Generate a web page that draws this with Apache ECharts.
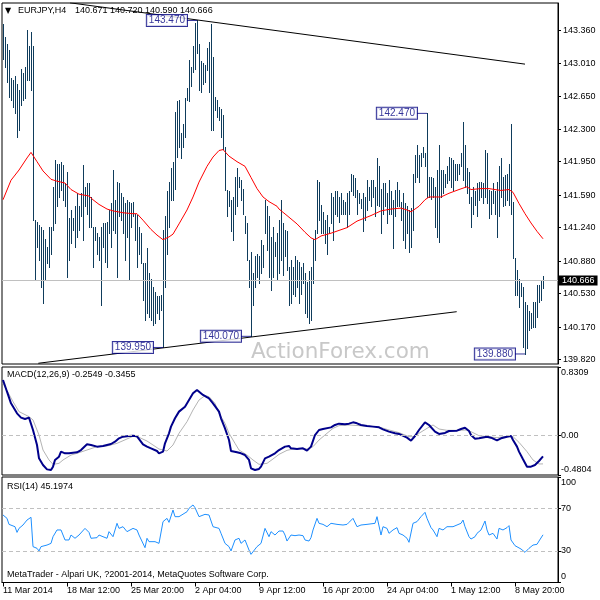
<!DOCTYPE html>
<html><head><meta charset="utf-8">
<script src="https://cdn.jsdelivr.net/npm/echarts@6/dist/echarts.min.js"></script>
<style>html,body{margin:0;padding:0;background:#fff}#c{width:600px;height:600px}</style>
</head><body><div id="c"></div>
<script>
// ---------- data ----------
const symbolName = 'EURJPY,H4';
const ohlcLast = ['140.671', '140.720', '140.590', '140.666'];
const lastClose = 140.666;

const highs = [143.43,143.29,143.22,143.15,142.85,142.83,142.87,142.79,142.72,142.95,142.90,142.97,143.37,143.19,143.35,143.19,141.32,141.30,141.27,141.25,
141.21,141.12,141.03,141.25,141.25,141.68,141.97,141.93,141.93,141.95,141.91,141.72,141.84,141.34,141.43,141.34,141.47,141.61,141.47,141.61,
141.91,141.68,141.72,141.72,141.57,141.25,141.25,141.18,141.14,141.25,141.29,141.29,141.30,141.43,141.50,141.86,141.54,141.73,141.72,141.61,
141.57,141.50,141.54,141.52,141.50,141.52,141.39,141.38,141.25,141.18,140.86,140.86,141.02,140.75,140.69,140.60,140.55,140.50,140.50,140.51,
141.21,141.36,141.63,141.73,141.88,141.95,142.49,142.60,142.61,142.26,142.36,142.63,142.74,143.04,142.97,143.19,143.44,143.47,143.22,143.03,
143.01,142.99,143.17,143.24,143.43,143.08,142.65,142.61,142.54,142.52,142.45,142.11,141.65,141.63,141.54,141.57,141.79,141.88,141.79,141.75,
141.66,141.36,141.29,140.89,140.98,140.75,140.93,140.96,140.93,141.11,141.05,141.54,141.47,141.36,141.14,141.25,141.09,141.18,141.32,141.54,
141.29,141.21,141.20,140.82,140.89,140.82,140.93,140.89,140.87,140.82,140.86,140.75,140.66,140.77,140.82,141.12,141.21,141.75,141.73,141.48,
141.41,141.32,141.38,141.25,141.61,141.57,141.63,141.63,141.57,141.61,141.54,141.52,141.61,141.63,141.82,141.81,141.77,141.65,141.61,141.55,
141.61,141.57,141.75,141.68,141.75,141.75,141.68,141.99,141.90,141.66,141.72,141.72,141.61,141.75,141.63,141.54,141.65,141.73,141.65,141.52,
141.61,141.50,141.47,141.43,141.45,141.82,142.02,142.13,142.02,142.04,142.11,142.04,142.47,141.79,141.79,141.77,141.68,141.86,142.13,141.86,
141.86,141.82,141.90,142.00,141.99,141.97,141.93,141.93,141.93,142.04,142.38,142.13,141.88,141.84,141.57,141.68,141.63,141.72,141.73,141.73,
141.72,142.08,142.04,141.65,141.63,141.72,141.63,141.73,141.90,141.99,141.79,141.81,141.82,141.93,142.36,141.52,140.91,140.78,140.69,140.64,
140.60,140.44,140.41,140.34,140.32,140.44,140.44,140.62,140.62,140.68,140.72];

const lows = [143.06,142.97,142.81,142.65,142.61,142.54,142.47,142.22,142.29,142.56,142.61,142.63,142.83,142.83,142.72,141.32,140.69,141.03,140.89,140.60,
140.43,140.68,140.86,140.82,140.96,141.21,141.29,141.47,141.57,141.65,141.54,141.47,140.71,140.89,141.07,141.21,141.03,141.14,141.21,141.36,
141.11,141.47,141.39,141.25,141.25,140.82,141.11,140.96,140.89,140.41,141.03,140.87,140.82,141.18,141.03,141.21,141.18,140.71,141.36,141.32,
141.18,140.89,141.14,140.68,141.25,141.36,141.11,140.82,140.96,140.86,140.46,140.25,140.32,140.28,140.25,140.19,140.21,140.32,140.26,140.35,
139.95,140.60,140.96,141.25,141.54,141.54,141.66,142.00,142.11,141.99,142.11,142.22,142.61,142.60,142.76,142.92,142.95,143.12,142.72,142.70,
142.79,142.81,142.94,142.70,142.29,142.29,142.51,142.43,142.40,142.22,142.09,141.65,141.36,141.47,141.20,141.11,141.39,141.47,141.68,141.54,
141.39,141.18,140.89,140.60,140.07,140.41,140.60,140.71,140.64,140.75,140.82,141.18,141.00,140.71,140.57,140.71,140.93,140.68,140.75,140.89,
140.73,140.93,140.78,140.41,140.43,140.53,140.50,140.60,140.43,140.53,140.64,140.32,140.28,140.21,140.25,140.64,140.89,141.18,141.32,141.18,
141.18,141.07,140.96,141.18,141.29,141.11,141.39,141.36,141.30,141.39,141.39,141.39,141.25,141.39,141.63,141.59,141.57,141.39,141.50,141.45,
141.20,141.32,141.43,141.54,141.47,141.57,141.36,141.48,141.47,141.18,141.39,141.47,141.29,141.39,141.39,141.02,141.36,141.47,141.47,141.32,
141.11,141.02,141.18,140.98,141.03,141.21,141.73,141.79,141.73,141.90,142.00,141.90,141.57,141.57,141.55,141.57,141.25,141.14,141.09,141.57,
141.61,141.68,141.72,141.75,141.68,141.65,141.75,141.75,141.82,141.90,141.75,141.68,141.61,141.50,141.25,141.39,141.48,141.36,141.54,141.57,
141.50,141.57,141.50,141.34,141.39,141.50,141.39,141.14,141.36,141.57,141.47,141.48,141.54,141.48,141.39,140.91,140.51,140.51,140.39,140.50,
139.96,139.88,139.94,140.14,140.16,140.17,140.17,140.28,140.44,140.46,140.59];

// red moving average, [bar, value]
const maLine = [[0,141.54],[4,141.75],[8,141.86],[12,141.99],[14,142.05],[15,142.03],[17,141.95],[20,141.85],[24,141.76],[27,141.74],[31,141.72],[34,141.65],[38,141.60],[43,141.58],[45,141.54],[48,141.49],[52,141.44],[55,141.42],[60,141.40],[65,141.39],[67,141.39],[70,141.32],[74,141.22],[77,141.16],[80,141.11],[83,141.14],[85,141.17],[88,141.28],[92,141.43],[95,141.57],[98,141.73],[102,141.90],[105,142.00],[108,142.07],[110,142.08],[113,142.01],[117,141.95],[121,141.90],[124,141.78],[127,141.66],[130,141.57],[133,141.52],[137,141.47],[138,141.44],[142,141.37],[147,141.28],[151,141.19],[154,141.13],[156,141.11],[159,141.15],[164,141.18],[168,141.21],[172,141.24],[177,141.31],[184,141.37],[189,141.42],[194,141.44],[199,141.45],[202,141.43],[204,141.41],[208,141.47],[211,141.54],[213,141.57],[219,141.57],[223,141.61],[228,141.65],[232,141.68],[234,141.65],[239,141.66],[243,141.66],[246,141.65],[249,141.64],[253,141.65],[255,141.62],[258,141.50],[261,141.39],[264,141.29],[267,141.20],[270,141.12]];

const macdMain = [[0,0.673],[2,0.531],[4,0.390],[7,0.268],[9,0.216],[11,0.199],[13,0.216],[14,0.208],[15,0.066],[17,-0.116],[18,-0.278],[20,-0.359],[22,-0.412],[24,-0.420],[25,-0.379],[26,-0.298],[28,-0.258],[29,-0.197],[30,-0.189],[31,-0.217],[33,-0.217],[37,-0.205],[39,-0.177],[42,-0.108],[43,-0.088],[44,-0.116],[47,-0.136],[50,-0.128],[52,-0.116],[54,-0.104],[56,-0.076],[58,-0.035],[60,-0.015],[63,-0.007],[65,-0.003],[67,-0.011],[68,-0.035],[70,-0.108],[72,-0.136],[74,-0.157],[77,-0.189],[78,-0.217],[80,-0.197],[81,-0.096],[83,0.026],[84,0.107],[86,0.208],[88,0.289],[91,0.349],[93,0.430],[95,0.511],[97,0.552],[98,0.531],[100,0.491],[103,0.450],[105,0.390],[108,0.289],[109,0.208],[111,0.086],[113,-0.056],[114,-0.189],[117,-0.205],[119,-0.217],[121,-0.238],[123,-0.298],[124,-0.399],[126,-0.420],[128,-0.407],[129,-0.379],[131,-0.278],[133,-0.258],[136,-0.217],[138,-0.177],[141,-0.136],[143,-0.128],[144,-0.157],[147,-0.165],[148,-0.157],[150,-0.157],[152,-0.185],[154,-0.136],[156,0.005],[158,0.066],[160,0.078],[164,0.098],[166,0.127],[168,0.143],[171,0.135],[173,0.143],[175,0.159],[177,0.147],[179,0.127],[182,0.115],[185,0.107],[188,0.098],[190,0.074],[193,0.046],[196,0.026],[198,0.018],[202,-0.027],[204,-0.064],[206,-0.007],[208,0.066],[211,0.159],[213,0.127],[216,0.046],[218,0.018],[221,0.030],[223,0.054],[227,0.058],[229,0.078],[231,0.094],[233,0.054],[234,0.005],[236,-0.039],[238,-0.035],[242,-0.015],[244,-0.027],[247,-0.060],[249,-0.035],[252,-0.015],[254,-0.007],[255,-0.056],[257,-0.136],[258,-0.197],[260,-0.290],[262,-0.379],[264,-0.379],[266,-0.359],[268,-0.310],[270,-0.2549]];

const macdSignal = [[0,0.633],[1,0.612],[5,0.410],[8,0.289],[13,0.228],[15,0.188],[18,0.005],[20,-0.177],[23,-0.298],[25,-0.351],[28,-0.339],[30,-0.298],[34,-0.238],[37,-0.217],[42,-0.177],[47,-0.136],[52,-0.128],[57,-0.096],[62,-0.043],[65,-0.011],[68,-0.023],[72,-0.068],[75,-0.116],[78,-0.165],[82,-0.189],[85,-0.116],[88,0.026],[92,0.167],[95,0.309],[98,0.430],[101,0.483],[103,0.471],[106,0.390],[108,0.268],[111,0.147],[113,0.026],[116,-0.096],[118,-0.177],[122,-0.238],[125,-0.298],[128,-0.351],[132,-0.339],[135,-0.286],[138,-0.230],[142,-0.181],[145,-0.165],[148,-0.157],[152,-0.165],[155,-0.136],[158,-0.056],[162,0.026],[165,0.086],[168,0.119],[173,0.127],[178,0.119],[183,0.111],[188,0.102],[193,0.066],[198,0.034],[203,-0.015],[206,-0.015],[208,0.026],[212,0.086],[215,0.127],[218,0.078],[222,0.062],[227,0.062],[232,0.066],[235,0.034],[238,-0.003],[242,-0.015],[247,-0.027],[252,-0.011],[255,-0.015],[258,-0.084],[262,-0.197],[265,-0.298],[268,-0.347],[270,-0.3455]];

const rsiLine = [[0,64.0],[2,60.8],[3,55.1],[6,52.9],[7,47.5],[8,51.3],[10,54.5],[12,59.2],[14,61.8],[15,34.0],[17,32.4],[18,29.9],[19,34.0],[22,35.5],[24,37.1],[25,43.4],[27,49.8],[28,48.2],[29,49.8],[31,40.3],[33,40.3],[34,45.0],[36,41.9],[38,45.0],[41,51.3],[43,47.5],[44,41.9],[45,43.4],[47,42.5],[48,45.0],[50,43.4],[52,41.9],[53,48.2],[55,43.4],[57,56.1],[58,51.3],[60,52.9],[62,48.2],[63,46.6],[65,51.3],[67,49.8],[68,45.0],[69,46.6],[71,33.0],[72,41.9],[73,38.7],[76,38.7],[78,37.1],[79,38.7],[80,57.7],[82,60.8],[83,57.0],[85,68.7],[86,62.4],[88,62.4],[89,64.0],[92,67.1],[93,70.3],[95,73.5],[96,70.9],[98,62.4],[99,64.0],[101,64.6],[103,64.0],[104,62.4],[105,52.9],[108,51.3],[109,46.6],[111,37.1],[113,34.0],[114,29.9],[116,40.3],[118,41.9],[119,37.1],[121,40.3],[123,30.8],[124,26.7],[125,27.6],[127,34.0],[129,37.1],[131,51.3],[133,43.4],[134,48.2],[136,45.0],[138,48.8],[139,47.5],[140,48.8],[141,45.0],[142,39.3],[144,45.0],[146,44.4],[148,45.0],[150,44.4],[151,40.3],[153,39.3],[154,42.5],[155,49.8],[157,60.8],[158,56.1],[160,55.1],[162,52.9],[164,56.1],[165,57.7],[167,55.1],[168,56.1],[170,54.5],[172,55.1],[173,57.0],[175,60.8],[177,52.9],[179,54.5],[180,53.9],[182,55.1],[183,55.1],[186,56.1],[187,62.4],[189,45.0],[190,52.9],[192,51.3],[193,46.6],[195,49.8],[197,52.0],[198,46.6],[200,45.0],[202,41.9],[203,38.1],[205,56.1],[207,57.7],[209,62.4],[211,66.5],[212,60.8],[214,52.0],[215,49.8],[217,43.4],[218,51.3],[220,49.8],[222,52.9],[223,54.5],[225,52.9],[227,54.5],[229,56.1],[230,59.2],[231,52.9],[233,43.4],[234,41.2],[236,43.4],[237,46.6],[239,49.8],[241,58.3],[242,49.8],[243,45.0],[245,46.6],[247,41.2],[248,51.3],[250,49.8],[252,52.0],[253,53.9],[254,40.3],[256,34.9],[257,35.5],[259,31.75],[261,28.6],[262,27.6],[263,32.4],[265,35.5],[267,36.2],[268,39.3],[270,45.1974]];

const priceTicks = [139.82,140.17,140.53,140.88,141.24,141.59,141.95,142.30,142.65,143.01,143.36];
const macdTicks = [0.8309, 0, -0.4804];
const macdTickLabels = ['0.8309', '0.00', '-0.4804'];
const rsiTicks = [100, 70, 30, 0];
const rsiLevels = [70, 30];
const xTicks = [0, 32, 64, 96, 128, 160, 192, 224, 256];
const xTickLabels = ['11 Mar 2014','18 Mar 12:00','25 Mar 20:00','2 Apr 04:00','9 Apr 12:00','16 Apr 20:00','24 Apr 04:00','1 May 12:00','8 May 20:00'];

const annBars = [97, 80, 124, 212, 261];
const annPrices = [143.470, 139.950, 140.070, 142.470, 139.880];
const trendUpper = [[33.5, 143.66], [261, 143.00]];
const trendLower = [[17.65, 139.78], [226.85, 140.335]];

const macdName = 'MACD(12,26,9)';
const macdValues = ['-0.2549', '-0.3455'];
const rsiName = 'RSI(14)';
const rsiValue = '45.1974';
const copyright = 'MetaTrader - Alpari UK, ?2001-2014, MetaQuotes Software Corp.';
const watermark = 'ActionForex.com';

// ---------- chart ----------
const FONT = '"Liberation Sans", Arial, sans-serif';
const BAR = '#0f3c5c';
const chart = echarts.init(document.getElementById('c'));
const barData = highs.map((h, i) => [i, h, lows[i]]);

function nearestIdx(arr, v) {
  let best = 0;
  arr.forEach((a, k) => { if (Math.abs(a - v) < Math.abs(arr[best] - v)) best = k; });
  return best;
}
const gridBase = { left: 2, width: 556, show: true, borderColor: '#000', borderWidth: 1, backgroundColor: '#fff', containLabel: false, outerBoundsMode: 'none' };
const yBase = {
  type: 'value', position: 'right', splitLine: { show: false },
  axisLine: { show: true, onZero: false, lineStyle: { color: '#000', width: 1 } },
  axisTick: { show: true, inside: false, length: 3, lineStyle: { color: '#000' } }
};
const labelBase = { color: '#000', fontSize: 9, fontFamily: FONT };
const edgeRich = { t: { padding: [11, 0, 0, 0], fontSize: 9, fontFamily: FONT, color: '#000' },
                   b: { padding: [0, 0, 11, 0], fontSize: 9, fontFamily: FONT, color: '#000' } };

const option = {
  animation: false,
  tooltip: { show: false },
  textStyle: { fontFamily: FONT },
  grid: [
    Object.assign({}, gridBase, { top: 3, height: 361 }),
    Object.assign({}, gridBase, { top: 367, height: 108 }),
    Object.assign({}, gridBase, { top: 477, height: 105.5 })
  ],
  xAxis: [0, 1, 2].map(k => ({
    type: 'value', gridIndex: k, min: -0.5, max: 277.5, show: k === 2,
    splitLine: { show: false },
    axisLine: { show: k === 2, onZero: false, lineStyle: { color: '#000' } },
    axisTick: { show: k === 2, customValues: xTicks, length: 4, lineStyle: { color: '#000' } },
    axisLabel: Object.assign({ show: k === 2, customValues: xTicks, align: 'left', margin: 4,
      formatter: v => xTickLabels[nearestIdx(xTicks, v)] }, labelBase)
  })),
  yAxis: [
    Object.assign({}, yBase, { gridIndex: 0, min: 139.772, max: 143.658,
      axisTick: Object.assign({}, yBase.axisTick, { customValues: priceTicks }),
      axisLabel: Object.assign({ customValues: priceTicks, margin: 5, formatter: v => v.toFixed(3) }, labelBase) }),
    Object.assign({}, yBase, { gridIndex: 1, min: macdTicks[2], max: macdTicks[0],
      axisTick: Object.assign({}, yBase.axisTick, { customValues: macdTicks }),
      axisLabel: Object.assign({ customValues: macdTicks, margin: 3, rich: edgeRich,
        formatter: v => { const k = nearestIdx(macdTicks, v); const s = macdTickLabels[k];
          return k === 0 ? '{t|' + s + '}' : (k === 2 ? '{b|' + s + '}' : s); } }, labelBase) }),
    Object.assign({}, yBase, { gridIndex: 2, min: 0, max: 100,
      axisTick: Object.assign({}, yBase.axisTick, { customValues: rsiTicks }),
      axisLabel: Object.assign({ customValues: rsiTicks, margin: 3, rich: edgeRich,
        formatter: v => { const s = String(Math.round(v));
          return v >= 99.9 ? '{t|' + s + '}' : (v <= 0.1 ? '{b|' + s + '}' : s); } }, labelBase) })
  ],
  graphic: [
    { type: 'text', x: 251, y: 352, z: 1, silent: true, style: { text: watermark, fill: '#c8c8c8', fontSize: 21.5, fontFamily: '"DejaVu Sans", sans-serif', verticalAlign: 'middle' } },
    { type: 'text', x: 5, y: 10.5, z: 100, silent: true, style: { text: '▼', fill: '#000', fontSize: 8, fontFamily: '"DejaVu Sans"', verticalAlign: 'middle' } },
    { type: 'text', x: 18, y: 10.5, z: 100, silent: true, style: { text: symbolName, fill: '#000', fontSize: 9, fontFamily: FONT, verticalAlign: 'middle' } },
    { type: 'text', x: 75, y: 10.5, z: 100, silent: true, style: { text: ohlcLast.join(' '), fill: '#000', fontSize: 9, fontFamily: FONT, verticalAlign: 'middle' } },
    { type: 'text', x: 7, y: 375, z: 100, silent: true, style: { text: macdName + ' ' + macdValues.join(' '), fill: '#000', fontSize: 9, fontFamily: FONT, verticalAlign: 'middle' } },
    { type: 'text', x: 7, y: 487, z: 100, silent: true, style: { text: rsiName + ' ' + rsiValue, fill: '#000', fontSize: 9, fontFamily: FONT, verticalAlign: 'middle' } },
    { type: 'text', x: 7, y: 574.5, z: 100, silent: true, style: { text: copyright, fill: '#000', fontSize: 9, fontFamily: FONT, verticalAlign: 'middle' } }
  ],
  series: [
    { // current price line
      type: 'scatter', xAxisIndex: 0, yAxisIndex: 0, z: 1, silent: true, symbolSize: 0,
      data: [[barData.length - 1, lastClose]],
      markLine: { silent: true, symbol: ['none', 'none'], animation: false,
        lineStyle: { color: '#c0c0c0', width: 1, type: 'solid' },
        label: { show: true, position: 'end', distance: 1, formatter: () => lastClose.toFixed(3),
          backgroundColor: '#000', color: '#fff', fontSize: 9, fontFamily: FONT, padding: [1, 3, 0, 3] },
        emphasis: { disabled: true },
        data: [{ yAxis: lastClose }] }
    },
    { // price bars (high-low)
      type: 'custom', xAxisIndex: 0, yAxisIndex: 0, z: 3, silent: true, clip: true,
      encode: { x: 0, y: [1, 2] },
      data: barData,
      renderItem: function (params, api) {
        const p1 = api.coord([api.value(0), api.value(1)]);
        const p2 = api.coord([api.value(0), api.value(2)]);
        const x = Math.floor(p1[0]) + 0.5;
        return { type: 'line', shape: { x1: x, y1: Math.round(p1[1]), x2: x, y2: Math.round(p2[1]) + 1 },
          style: { stroke: BAR, lineWidth: 1 } };
      }
    },
    { type: 'line', xAxisIndex: 0, yAxisIndex: 0, z: 4, silent: true, data: maLine, showSymbol: false, symbol: 'none',
      lineStyle: { color: '#ff0000', width: 1 } },
    { type: 'line', xAxisIndex: 0, yAxisIndex: 0, z: 5, silent: true, data: trendUpper, symbol: 'none',
      lineStyle: { color: '#000', width: 1 } },
    { type: 'line', xAxisIndex: 0, yAxisIndex: 0, z: 5, silent: true, data: trendLower, symbol: 'none',
      lineStyle: { color: '#000', width: 1 } },
    { // labelled extremes
      type: 'scatter', xAxisIndex: 0, yAxisIndex: 0, z: 6, silent: true,
      data: annBars.map((b, k) => [b, annPrices[k]]),
      symbol: 'rect', symbolSize: [10, 1], symbolOffset: [-5, 0],
      itemStyle: { color: '#000080' },
      label: { show: true, position: 'left', distance: 0,
        formatter: p => annPrices[p.dataIndex].toFixed(3),
        color: '#000080', fontSize: 10, fontFamily: FONT, lineHeight: 10,
        borderColor: '#000080', borderWidth: 1, backgroundColor: '#fff', padding: [1, 2, 0, 2] },
      emphasis: { disabled: true }
    },
    { type: 'line', xAxisIndex: 1, yAxisIndex: 1, z: 3, silent: true, data: macdSignal, symbol: 'none',
      lineStyle: { color: '#b4b4b4', width: 1 } },
    { type: 'line', xAxisIndex: 1, yAxisIndex: 1, z: 4, silent: true, data: macdMain, symbol: 'none',
      lineStyle: { color: '#00008b', width: 2 },
      markLine: { silent: true, symbol: ['none', 'none'], animation: false, label: { show: false },
        lineStyle: { color: '#c0c0c0', width: 1, type: [4, 3] }, emphasis: { disabled: true },
        data: [{ yAxis: 0 }] } },
    { type: 'line', xAxisIndex: 2, yAxisIndex: 2, z: 4, silent: true, data: rsiLine, symbol: 'none',
      lineStyle: { color: '#1e90ff', width: 1 },
      markLine: { silent: true, symbol: ['none', 'none'], animation: false, label: { show: false },
        lineStyle: { color: '#c0c0c0', width: 1, type: [4, 3] }, emphasis: { disabled: true },
        data: rsiLevels.map(v => ({ yAxis: v })) } }
  ]
};
chart.setOption(option);
</script>
</body></html>
